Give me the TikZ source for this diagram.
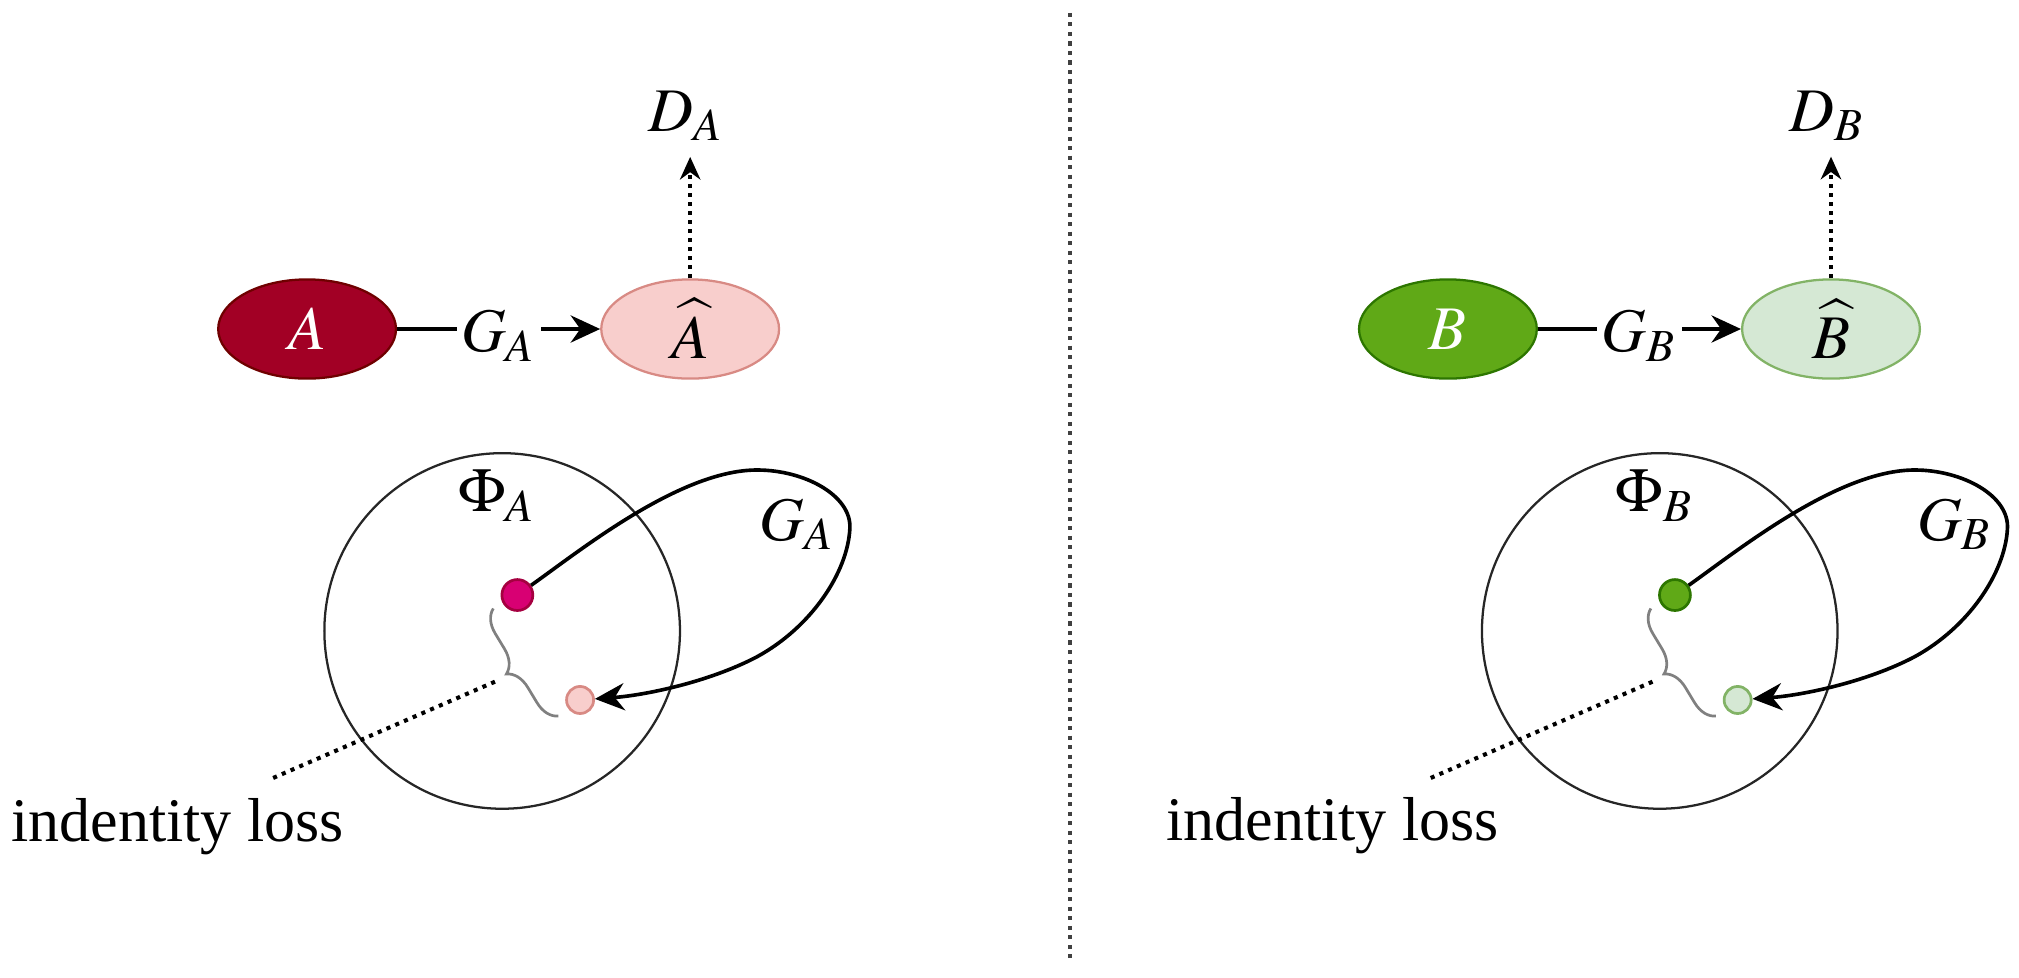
\documentclass[tikz,border=0pt]{standalone}
\usepackage{mathptmx}
\usepackage{fontspec}
\setmainfont{Liberation Serif}
\usetikzlibrary{shapes.geometric,arrows.meta,decorations.pathreplacing}

\definecolor{redfill}{HTML}{A20025}
\definecolor{redline}{HTML}{6F0000}
\definecolor{pinkfill}{HTML}{F8CECC}
\definecolor{pinkline}{HTML}{D88A84}
\definecolor{greenfill}{HTML}{60A917}
\definecolor{greenline}{HTML}{2D7600}
\definecolor{palefill}{HTML}{D5E8D4}
\definecolor{paleline}{HTML}{82B366}
\definecolor{magfill}{HTML}{D80073}
\definecolor{magline}{HTML}{A50040}

\begin{document}
\begin{tikzpicture}[x=0.01cm, y=-0.01cm,
    font=\fontsize{13.7}{16}\selectfont,
    blob/.style={ellipse, draw, line width=0.5pt, minimum width=1.38cm, minimum height=0.77cm, inner sep=0pt},
    genline/.style={line width=0.8pt, -{Stealth[length=6.5pt, width=6pt]}},
    discline/.style={line width=0.8pt, dash pattern=on 0.9pt off 1.1pt, -{Stealth[length=5pt, width=4.5pt]}},
    space/.style={circle, draw=black!85, line width=0.5pt, minimum size=2.76cm, inner sep=0pt},
    dot/.style={circle, draw, line width=0.6pt, inner sep=0pt},
    idbrace/.style={draw=gray, line width=0.6pt, decorate, decoration={brace, amplitude=5pt}},
    lossline/.style={line width=0.9pt, dash pattern=on 0.9pt off 1.2pt},
  ]
  \useasboundingbox (0,0) rectangle (1568,759);

  % divider
  \coordinate (divtop) at (831,10);
  \coordinate (divbot) at (831,745);
  \draw[lossline, black!75] (divtop) -- (divbot);

  % left: domain A
  \node[blob, fill=redfill, draw=redline, text=white] (A) at (238.5,255.5) {$A$};
  \node[blob, fill=pinkfill, draw=pinkline] (hatA) at (536,255.5) {$\widehat{A}$};
  \node (dA) at (533,102) [anchor=base] {$D_A$};
  \draw[genline] (A) -- node[fill=white, inner sep=1pt, yshift=-1.5pt] {$G_A$} (hatA);
  \draw[discline] (hatA.north) -- (hatA.north |- dA.south);

  \node[space] (phiA) at (390,490) {};
  \node (phiAlbl) at (386,385) {$\Phi_A$};
  \node[dot, fill=magfill, draw=magline, minimum size=0.24cm] (dotA) at (401.8,462.1) {};
  \node[dot, fill=pinkfill, draw=pinkline, minimum size=0.21cm] (pA) at (450.5,543.6) {};
  \draw[genline] (dotA) .. controls (450,428) and (528,365) .. (588,365)
    .. controls (625,365) and (662,385) .. (660,411)
    .. controls (658,445) and (630,487) .. (588,510)
    .. controls (550,530) and (500,540) .. (pA);
  \node (gA) at (619,407) {$G_A$};

  \coordinate (brA1) at (433.6,556.1);
  \coordinate (brA2) at (383.1,472.5);
  \draw[idbrace] (brA1) -- (brA2);
  \coordinate (tipA) at (384.4,529.4);
  \coordinate (endA) at (208.4,605.8);
  \draw[lossline] (tipA) -- (endA);
  \node[anchor=base west, inner sep=0pt] (lossA) at (8,653.7) {indentity loss};

  % right: domain B
  \node[blob, fill=greenfill, draw=greenline, text=white] (B) at (1124.5,255.5) {$B$};
  \node[blob, fill=palefill, draw=paleline] (hatB) at (1422,255.5) {$\widehat{B}$};
  \node (dB) at (1419,102) [anchor=base] {$D_B$};
  \draw[genline] (B) -- node[fill=white, inner sep=1pt, yshift=-1.5pt] {$G_B$} (hatB);
  \draw[discline] (hatB.north) -- (hatB.north |- dB.south);

  \node[space] (phiB) at (1289,490) {};
  \node (phiBlbl) at (1285,385) {$\Phi_B$};
  \node[dot, fill=greenfill, draw=greenline, minimum size=0.24cm] (dotB) at (1300.8,462.1) {};
  \node[dot, fill=palefill, draw=paleline, minimum size=0.21cm] (pB) at (1349.5,543.6) {};
  \draw[genline] (dotB) .. controls (1349,428) and (1427,365) .. (1487,365)
    .. controls (1524,365) and (1561,385) .. (1559,411)
    .. controls (1557,445) and (1529,487) .. (1487,510)
    .. controls (1449,530) and (1399,540) .. (pB);
  \node (gB) at (1518,407) {$G_B$};

  \coordinate (brB1) at (1332.6,556.1);
  \coordinate (brB2) at (1282.1,472.5);
  \draw[idbrace] (brB1) -- (brB2);
  \coordinate (tipB) at (1283.4,529.4);
  \coordinate (endB) at (1107.4,605.8);
  \draw[lossline] (tipB) -- (endB);
  \node[anchor=base west, inner sep=0pt] (lossB) at (905,652.4) {indentity loss};
\end{tikzpicture}
\end{document}
